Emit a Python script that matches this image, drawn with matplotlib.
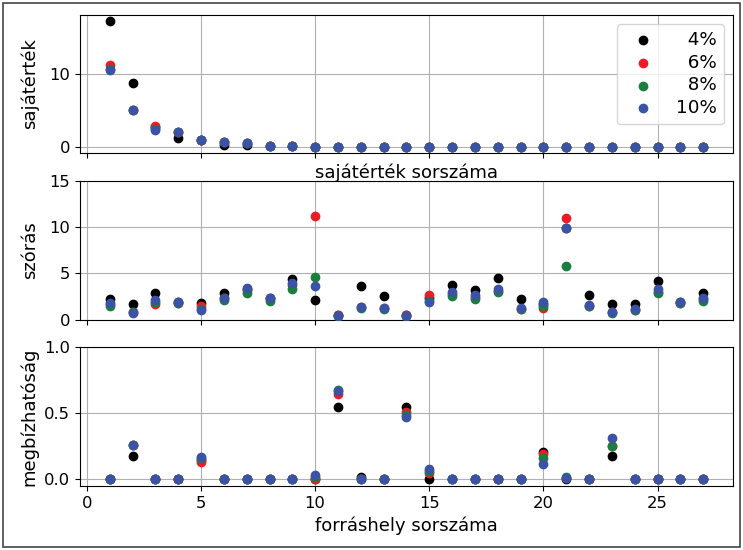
import matplotlib
matplotlib.use("Agg")
import matplotlib.pyplot as plt
from matplotlib.patches import Rectangle

# sorszámok (1..27)
idx = list(range(1, 28))

labels = ["  4%", "  6%", "  8%", "10%"]
colors = ["black", "#ec1c24", "#1a7f3c", "#3a53a4"]

# sajátértékek
eig_4 = [17.3, 8.8, 2.8, 1.25, 0.9, 0.33, 0.33, 0.15, 0.1] + [0] * 18
eig_6 = [11.2, 5.05, 2.9, 2.1, 0.9, 0.7, 0.6, 0.2, 0.1] + [0] * 18
eig_8 = [10.7, 5.05, 2.5, 2.1, 0.9, 0.7, 0.6, 0.2, 0.1] + [0] * 18
eig_10 = [10.6, 5.05, 2.4, 2.1, 0.9, 0.7, 0.6, 0.2, 0.1] + [0] * 18

# szórás
std_4 = [2.27, 1.65, 2.88, 1.9, 1.8, 2.88, 3.3, 2.3, 4.43, 2.09, 0.45, 3.68, 2.55, 0.45,
         2.3, 3.79, 3.17, 4.54, 2.23, 1.7, 9.9, 2.63, 1.73, 1.65, 4.14, 1.9, 2.92]
std_6 = [1.7, 0.8, 1.65, 1.85, 1.45, 2.3, 3.2, 2.2, 3.7, 11.2, 0.45, 1.4, 1.3, 0.45,
         2.63, 2.8, 2.4, 3.1, 1.2, 1.3, 11.0, 1.5, 0.8, 1.0, 3.0, 1.85, 2.2]
std_8 = [1.44, 0.8, 1.9, 1.75, 1.1, 2.09, 2.92, 2.0, 3.35, 4.58, 0.4, 1.3, 1.2, 0.4,
         2.0, 2.52, 2.2, 2.95, 1.15, 1.5, 5.77, 1.45, 0.75, 1.0, 2.88, 1.8, 2.0]
std_10 = [1.8, 0.76, 2.16, 1.87, 1.0, 2.38, 3.46, 2.34, 3.96, 3.6, 0.43, 1.36, 1.26, 0.43,
          1.9, 2.99, 2.63, 3.35, 1.26, 1.9, 9.9, 1.58, 0.79, 1.1, 3.3, 1.87, 2.38]

# megbízhatóság
rel_4 = [0, 0.175, 0, 0, 0.15, 0, 0, 0, 0, 0, 0.55, 0.02, 0, 0.55,
         0, 0, 0, 0, 0, 0.21, 0, 0, 0.18, 0, 0, 0, 0]
rel_6 = [0, 0.26, 0, 0, 0.13, 0, 0, 0, 0, 0, 0.65, 0, 0, 0.51,
         0.05, 0, 0, 0, 0, 0.19, 0.01, 0, 0.25, 0, 0, 0, 0]
rel_8 = [0, 0.26, 0, 0, 0.16, 0, 0, 0, 0, 0.02, 0.68, 0, 0, 0.49,
         0.06, 0, 0, 0, 0, 0.16, 0.02, 0, 0.25, 0, 0, 0, 0]
rel_10 = [0, 0.26, 0, 0, 0.17, 0, 0, 0, 0, 0.03, 0.67, 0, 0, 0.47,
          0.08, 0, 0, 0, 0, 0.115, 0.01, 0, 0.31, 0, 0, 0, 0]

eig = [eig_4, eig_6, eig_8, eig_10]
std = [std_4, std_6, std_8, std_10]
rel = [rel_4, rel_6, rel_8, rel_10]

fig, (ax1, ax2, ax3) = plt.subplots(3, 1, figsize=(7.43, 5.5), dpi=100, sharex=True)
fig.subplots_adjust(left=0.1077, right=0.9865, bottom=0.1164, top=0.9733, hspace=0.2)

for k in range(4):
    ax1.scatter(idx, eig[k], s=36, color=colors[k], label=labels[k], zorder=3)
    ax2.scatter(idx, std[k], s=36, color=colors[k], zorder=3)
    ax3.scatter(idx, rel[k], s=36, color=colors[k], zorder=3)

ax1.set_ylabel("sajátérték", fontsize=13)
ax1.set_xlabel("sajátérték sorszáma", fontsize=13)
ax1.set_yticks([0, 10])
ax1.legend(loc="upper right", fontsize=13.2, labelspacing=0.25)
ax1.tick_params(labelbottom=False)

ax2.set_ylabel("szórás", fontsize=13)
ax2.set_ylim(0, 15)
ax2.set_yticks([0, 5, 10, 15])
ax2.tick_params(labelbottom=False)

ax3.set_ylabel("megbízhatóság", fontsize=13)
ax3.set_xlabel("forráshely sorszáma", fontsize=13)
ax3.set_ylim(-0.05, 1.0)
ax3.set_yticks([0.0, 0.5, 1.0])
ax3.set_xticks([0, 5, 10, 15, 20, 25])

for ax in (ax1, ax2, ax3):
    ax.grid(True, color="#b0b0b0", linewidth=0.8)
    ax.set_axisbelow(True)
    ax.tick_params(labelsize=11.8)

fig.align_ylabels([ax1, ax2, ax3])

# keret a kép körül
fig.patches.append(Rectangle((3 / 743, 3 / 550), 737 / 743, 544 / 550, transform=fig.transFigure,
                             fill=False, edgecolor="#444444", linewidth=1.2))

fig.savefig("out.png")
